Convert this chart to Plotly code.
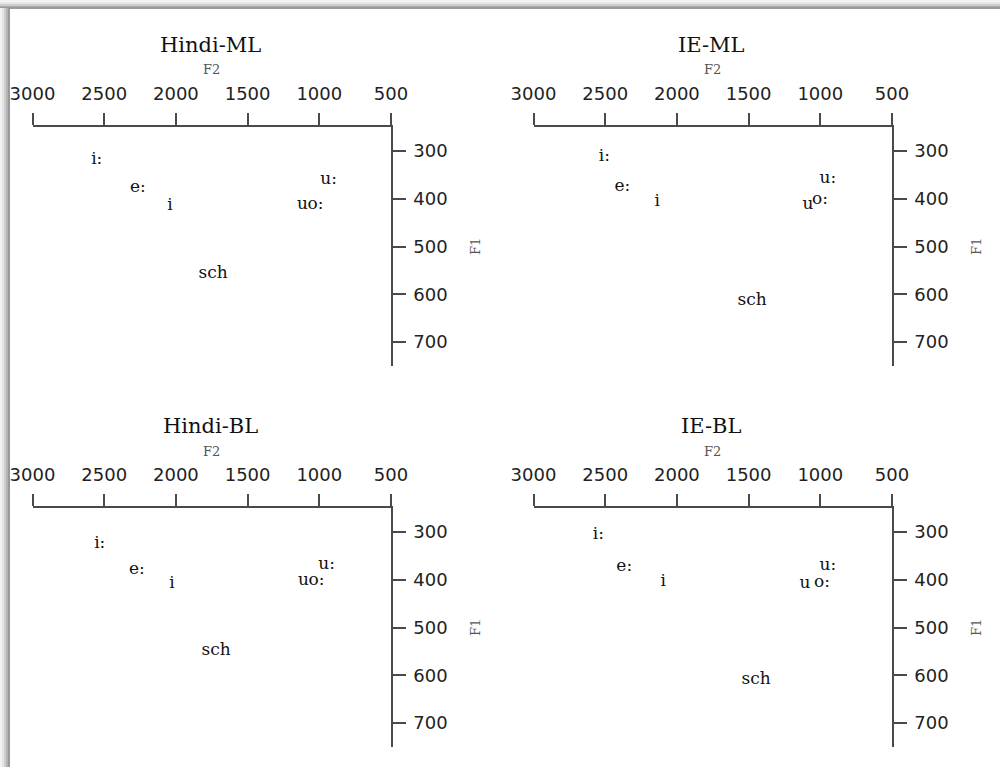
import plotly.graph_objects as go

# ---- data ----
vowels = ["i:", "e:", "i", "u:", "u", "o:", "sch"]
panel_titles = ["Hindi-ML", "IE-ML", "Hindi-BL", "IE-BL"]

f2_hindi_ml = [2552, 2265, 2041, 935, 1117, 1026, 1740]
f1_hindi_ml = [318, 378, 414, 360, 412, 412, 558]

f2_ie_ml = [2506, 2380, 2137, 947, 1086, 1002, 1476]
f1_ie_ml = [312, 376, 406, 358, 412, 402, 613]

f2_hindi_bl = [2531, 2272, 2027, 949, 1110, 1019, 1719]
f1_hindi_bl = [324, 379, 408, 368, 402, 402, 548]

f2_ie_bl = [2548, 2367, 2095, 947, 1107, 989, 1448]
f1_ie_bl = [305, 372, 404, 370, 408, 406, 609]

f2_ticks = [3000, 2500, 2000, 1500, 1000, 500]
f1_ticks = [300, 400, 500, 600, 700]
f2_range = [3000, 500]
f1_range = [750, 250]

panel_f2 = [f2_hindi_ml, f2_ie_ml, f2_hindi_bl, f2_ie_bl]
panel_f1 = [f1_hindi_ml, f1_ie_ml, f1_hindi_bl, f1_ie_bl]

# ---- layout geometry (pixels) ----
W, H = 1000, 767
x_domains_px = [(32.5, 391), (533.5, 892), (32.5, 391), (533.5, 892)]
y_domains_px = [(127, 366), (127, 366), (508, 747), (508, 747)]

def px_x(x):
    return x / W

def px_y(y):
    return 1 - y / H

fig = go.Figure()
annotations = []
shapes = []

serif = "DejaVu Serif"
sans = "DejaVu Sans"
axis_col = "#4a4a4a"

for i in range(4):
    n = "" if i == 0 else str(i + 1)
    xd = [px_x(x_domains_px[i][0]), px_x(x_domains_px[i][1])]
    yd = [px_y(y_domains_px[i][1]), px_y(y_domains_px[i][0])]
    fig.add_trace(go.Scatter(
        x=panel_f2[i], y=panel_f1[i], text=vowels, mode="text",
        textposition="middle center",
        textfont=dict(family=serif, size=17, color="#111111"),
        xaxis="x" + n, yaxis="y" + n, showlegend=False, hoverinfo="text",
    ))
    fig.layout["xaxis" + n] = dict(
        domain=xd, anchor="y" + n, side="top", range=f2_range,
        tickvals=f2_ticks, ticktext=[str(v) for v in f2_ticks],
        showline=True, linecolor=axis_col, linewidth=1.5,
        ticks="outside", ticklen=12, tickwidth=1.5, tickcolor=axis_col,
        tickfont=dict(family=sans, size=18, color="#222222"),
        ticklabelstandoff=6, automargin=False,
        showgrid=False, zeroline=False, fixedrange=True,
    )
    fig.layout["yaxis" + n] = dict(
        domain=yd, anchor="x" + n, side="right", range=f1_range,
        tickvals=f1_ticks, ticktext=[str(v) for v in f1_ticks],
        showline=True, linecolor=axis_col, linewidth=1.5,
        ticks="outside", ticklen=13, tickwidth=1.5, tickcolor=axis_col,
        tickfont=dict(family=sans, size=18, color="#222222"),
        ticklabelstandoff=4, automargin=False,
        showgrid=False, zeroline=False, fixedrange=True,
    )
    cx = (x_domains_px[i][0] + x_domains_px[i][1]) / 2
    top = y_domains_px[i][0]
    # panel title
    annotations.append(dict(
        x=px_x(cx - 1), y=px_y(top - 82), xref="paper", yref="paper",
        text=panel_titles[i], showarrow=False, xanchor="center", yanchor="middle",
        font=dict(family=serif, size=21, color="#111111"),
    ))
    # F2 axis title
    annotations.append(dict(
        x=px_x(cx), y=px_y(top - 57), xref="paper", yref="paper",
        text="F2", showarrow=False, xanchor="center", yanchor="middle",
        font=dict(family=serif, size=13, color="#555555"),
    ))
    # F1 axis title
    annotations.append(dict(
        x=px_x(x_domains_px[i][1] + 84), y=px_y(top + 120), xref="paper", yref="paper",
        text="F1", showarrow=False, xanchor="center", yanchor="middle", textangle=-90,
        font=dict(family=serif, size=13, color="#555555"),
    ))

# ---- page shadow frame (top and left edges) ----
top_band = [(0, "#f4f4f4"), (2, "#e6e6e6"), (4, "#cccccc"), (6, "#aaaaaa"), (7, "#999999")]
for y0, col in top_band:
    shapes.append(dict(type="rect", xref="paper", yref="paper",
                       x0=0, x1=1, y0=px_y(y0 + 2), y1=px_y(y0),
                       fillcolor=col, line=dict(width=0), layer="below"))
left_band = [(0, "#f2f2f2"), (2, "#e4e4e4"), (4, "#cfcfcf"), (6, "#b4b4b4"), (8, "#999999")]
for x0, col in left_band:
    shapes.append(dict(type="rect", xref="paper", yref="paper",
                       x0=px_x(x0), x1=px_x(x0 + 2), y0=0, y1=px_y(8),
                       fillcolor=col, line=dict(width=0), layer="below"))

fig.update_layout(
    width=W, height=H,
    margin=dict(l=0, r=0, t=0, b=0, autoexpand=False),
    paper_bgcolor="white", plot_bgcolor="white",
    annotations=annotations, shapes=shapes,
    showlegend=False,
)

fig.write_html("out.html")
